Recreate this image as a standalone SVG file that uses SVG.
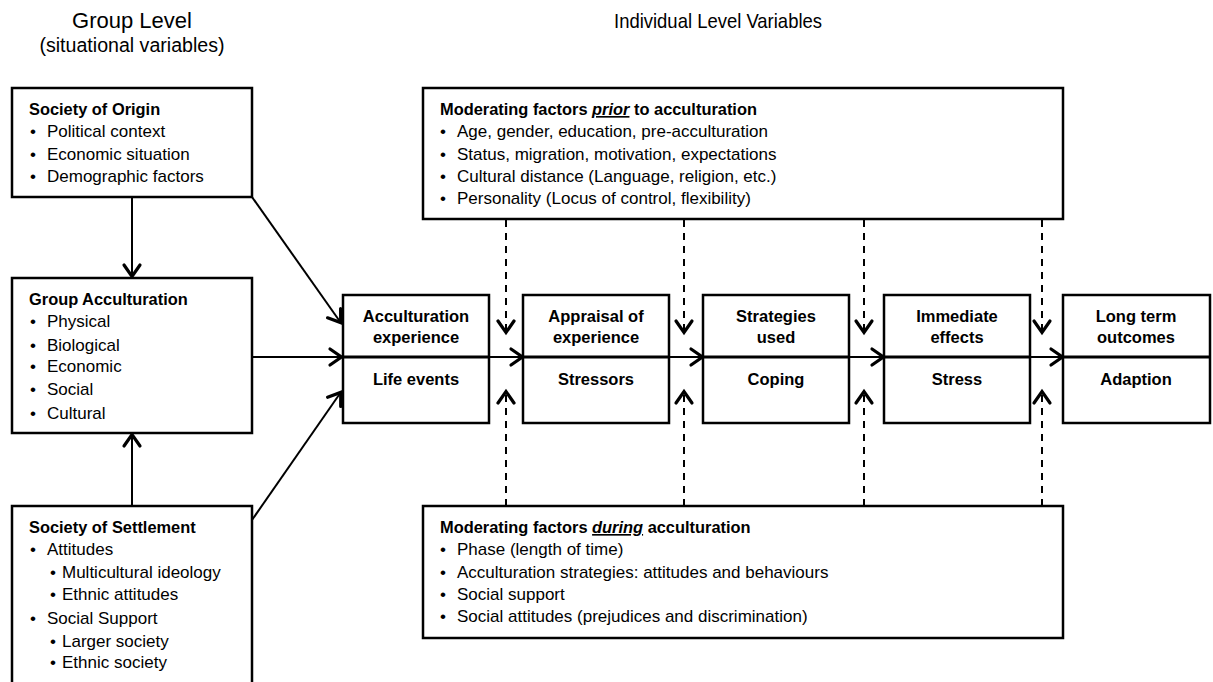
<svg xmlns="http://www.w3.org/2000/svg" width="1213" height="682" viewBox="0 0 1213 682">
<style>
text{font-family:"Liberation Sans",Arial,sans-serif;fill:#000}
.hdr{font-size:22px}
.hdr2{font-size:21px}
.sub{font-size:19.6px}
.t{font-size:17px}
.b{font-weight:bold;font-size:16.4px}
.c{text-anchor:middle;font-size:16.5px;font-weight:bold}
.box{fill:#fff;stroke:#000;stroke-width:2.5}
.div{stroke:#000;stroke-width:3}
.con{stroke:#000;stroke-width:2;fill:none}
.dash{stroke:#000;stroke-width:2;fill:none;stroke-dasharray:7 6}
.emph{font-style:italic;text-decoration:underline}
</style>
<defs>
<marker id="ah" markerUnits="userSpaceOnUse" markerWidth="22" markerHeight="22" viewBox="0 0 22 22" refX="17" refY="11" orient="auto">
<path d="M5,3 L16.5,11 L5,19" fill="none" stroke="#000" stroke-width="3.2" stroke-linecap="round" stroke-linejoin="miter"/>
</marker>
</defs>
<rect width="1213" height="682" fill="#fff"/>
<text class="hdr" x="132" y="28" text-anchor="middle">Group Level</text>
<text class="sub" x="132" y="52" text-anchor="middle">(situational variables)</text>
<text class="hdr2" x="614" y="28" textLength="208" lengthAdjust="spacingAndGlyphs">Individual Level Variables</text>

<g id="connectors">
<line class="con" x1="132" y1="197" x2="132" y2="277" marker-end="url(#ah)"/>
<line class="con" x1="132" y1="506" x2="132" y2="434" marker-end="url(#ah)"/>
<line class="con" x1="252" y1="197" x2="341" y2="323" marker-end="url(#ah)"/>
<line class="con" x1="252" y1="357" x2="342" y2="357" marker-end="url(#ah)"/>
<line class="con" x1="252" y1="520" x2="341" y2="392" marker-end="url(#ah)"/>
<line class="con" x1="489" y1="357" x2="523" y2="357" marker-end="url(#ah)"/>
<line class="con" x1="669" y1="357" x2="703" y2="357" marker-end="url(#ah)"/>
<line class="con" x1="849" y1="357" x2="884" y2="357" marker-end="url(#ah)"/>
<line class="con" x1="1030" y1="357" x2="1063" y2="357" marker-end="url(#ah)"/>
<line class="dash" x1="506" y1="220" x2="506" y2="333" marker-end="url(#ah)"/>
<line class="dash" x1="684" y1="220" x2="684" y2="333" marker-end="url(#ah)"/>
<line class="dash" x1="864" y1="220" x2="864" y2="333" marker-end="url(#ah)"/>
<line class="dash" x1="1042" y1="220" x2="1042" y2="333" marker-end="url(#ah)"/>
<line class="dash" x1="506" y1="506" x2="506" y2="391" marker-end="url(#ah)"/>
<line class="dash" x1="684" y1="506" x2="684" y2="391" marker-end="url(#ah)"/>
<line class="dash" x1="864" y1="506" x2="864" y2="391" marker-end="url(#ah)"/>
<line class="dash" x1="1042" y1="506" x2="1042" y2="391" marker-end="url(#ah)"/>
</g>

<g id="society-origin">
<rect class="box" x="12" y="88" width="240" height="109"/>
<text class="t b" x="29" y="115">Society of Origin</text>
<text class="t" x="30" y="137">•</text><text class="t" x="47" y="137">Political context</text>
<text class="t" x="30" y="160">•</text><text class="t" x="47" y="160">Economic situation</text>
<text class="t" x="30" y="182">•</text><text class="t" x="47" y="182">Demographic factors</text>
</g>

<g id="group-acculturation">
<rect class="box" x="12" y="278" width="240" height="155"/>
<text class="t b" x="29" y="305">Group Acculturation</text>
<text class="t" x="30" y="327">•</text><text class="t" x="47" y="327">Physical</text>
<text class="t" x="30" y="351">•</text><text class="t" x="47" y="351">Biological</text>
<text class="t" x="30" y="372">•</text><text class="t" x="47" y="372">Economic</text>
<text class="t" x="30" y="395">•</text><text class="t" x="47" y="395">Social</text>
<text class="t" x="30" y="419">•</text><text class="t" x="47" y="419">Cultural</text>
</g>

<g id="society-settlement">
<rect class="box" x="12" y="506" width="240" height="190"/>
<text class="t b" x="29" y="533">Society of Settlement</text>
<text class="t" x="30" y="555">•</text><text class="t" x="47" y="555">Attitudes</text>
<text class="t" x="50" y="578">•</text><text class="t" x="62" y="578">Multicultural ideology</text>
<text class="t" x="50" y="600">•</text><text class="t" x="62" y="600">Ethnic attitudes</text>
<text class="t" x="30" y="624">•</text><text class="t" x="47" y="624">Social Support</text>
<text class="t" x="50" y="647">•</text><text class="t" x="62" y="647">Larger society</text>
<text class="t" x="50" y="668">•</text><text class="t" x="62" y="668">Ethnic society</text>
</g>

<g id="moderating-prior">
<rect class="box" x="423" y="88" width="640" height="131"/>
<text class="t b" x="440" y="115">Moderating factors <tspan class="emph">prior</tspan> to acculturation</text>
<text class="t" x="440" y="137">•</text><text class="t" x="457" y="137">Age, gender, education, pre-acculturation</text>
<text class="t" x="440" y="160">•</text><text class="t" x="457" y="160">Status, migration, motivation, expectations</text>
<text class="t" x="440" y="182">•</text><text class="t" x="457" y="182">Cultural distance (Language, religion, etc.)</text>
<text class="t" x="440" y="204">•</text><text class="t" x="457" y="204">Personality (Locus of control, flexibility)</text>
</g>

<g id="moderating-during">
<rect class="box" x="423" y="506" width="640" height="132"/>
<text class="t b" x="440" y="533">Moderating factors <tspan class="emph">during</tspan> acculturation</text>
<text class="t" x="440" y="555">•</text><text class="t" x="457" y="555">Phase (length of time)</text>
<text class="t" x="440" y="578">•</text><text class="t" x="457" y="578">Acculturation strategies: attitudes and behaviours</text>
<text class="t" x="440" y="600">•</text><text class="t" x="457" y="600">Social support</text>
<text class="t" x="440" y="622">•</text><text class="t" x="457" y="622">Social attitudes (prejudices and discrimination)</text>
</g>

<g id="acculturation-experience">
<rect class="box" x="343" y="295" width="146" height="128"/>
<line class="div" x1="343" y1="357" x2="489" y2="357"/>
<text class="c" x="416" y="322">Acculturation</text>
<text class="c" x="416" y="343">experience</text>
<text class="c" x="416" y="385">Life events</text>
</g>

<g id="appraisal">
<rect class="box" x="523" y="295" width="146" height="128"/>
<line class="div" x1="523" y1="357" x2="669" y2="357"/>
<text class="c" x="596" y="322">Appraisal of</text>
<text class="c" x="596" y="343">experience</text>
<text class="c" x="596" y="385">Stressors</text>
</g>

<g id="strategies">
<rect class="box" x="703" y="295" width="146" height="128"/>
<line class="div" x1="703" y1="357" x2="849" y2="357"/>
<text class="c" x="776" y="322">Strategies</text>
<text class="c" x="776" y="343">used</text>
<text class="c" x="776" y="385">Coping</text>
</g>

<g id="immediate">
<rect class="box" x="884" y="295" width="146" height="128"/>
<line class="div" x1="884" y1="357" x2="1030" y2="357"/>
<text class="c" x="957" y="322">Immediate</text>
<text class="c" x="957" y="343">effects</text>
<text class="c" x="957" y="385">Stress</text>
</g>

<g id="long-term">
<rect class="box" x="1063" y="295" width="147" height="128"/>
<line class="div" x1="1063" y1="357" x2="1210" y2="357"/>
<text class="c" x="1136" y="322">Long term</text>
<text class="c" x="1136" y="343">outcomes</text>
<text class="c" x="1136" y="385">Adaption</text>
</g>
</svg>
